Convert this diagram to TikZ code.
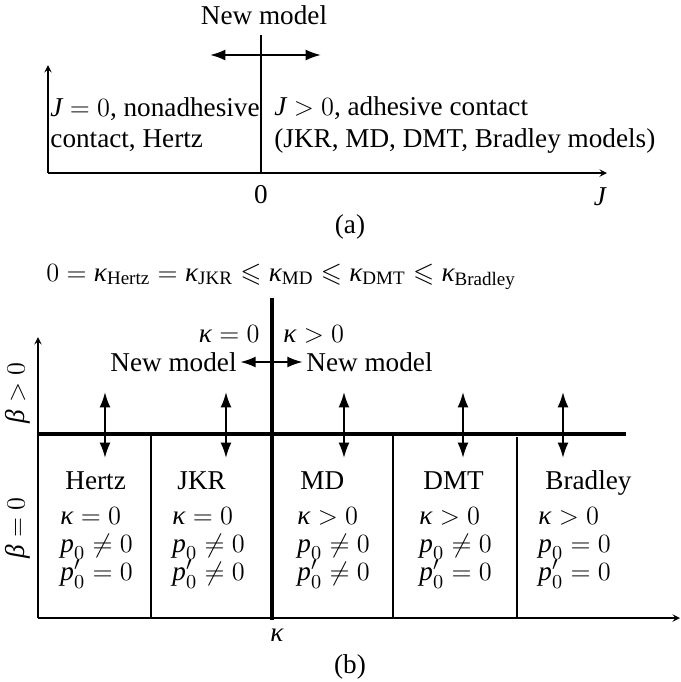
\documentclass[tikz,border=0pt]{standalone}
\usepackage{amsmath,amssymb}
\usepackage{fontspec}
\setmainfont{Liberation Serif}
\usetikzlibrary{arrows.meta}

% italic letters in the text face, to keep one serif throughout
\newcommand{\vJ}{\text{\itshape J}}
\newcommand{\vkap}{\text{\itshape κ}}
\newcommand{\vbeta}{\text{\itshape β}}
\newcommand{\vp}{\text{\itshape p}}

\begin{document}
\begin{tikzpicture}[x=0.456pt, y=-0.456pt,
    font=\fontsize{12.4}{14.2}\selectfont, inner sep=0pt,
    axis/.style={line width=0.5pt, ->, >=stealth},
    wall/.style={line width=1.4pt},
    divider/.style={line width=0.9pt},
    twoway/.style={line width=0.9pt, {Latex[length=7pt,width=5pt]}-{Latex[length=7pt,width=5pt]}},
    cond/.style={anchor=north west, align=left, font=\fontsize{12.4}{12.8}\selectfont}]

    \useasboundingbox (0,0) rectangle (681,682);

    % ---------------------------------------------------
    % (a) adhesion parameter J
    % ---------------------------------------------------
    \draw[axis] (48,173) -- (48,65);
    \draw[axis] (48,173) -- (607,173);
    \draw[line width=0.7pt] (261,35) -- (261,173);
    \draw[twoway] (210,55) -- (321,55);

    \node (newA) at (264,15) {New model};
    \node[anchor=west, align=left] (leftA) at (50,125) {$\vJ=0$, nonadhesive\\contact, Hertz};
    \node[anchor=west, align=left] (rightA) at (274,125) {$\vJ>0$, adhesive contact\\(JKR, MD, DMT, Bradley models)};
    \node (zeroA) at (261,195) {0};
    \node (jA) at (600,197) {$\vJ$};
    \node (capA) at (350,227) {(a)};

    % ---------------------------------------------------
    % (b) kappa / beta map
    % ---------------------------------------------------
    \node[anchor=base west] (order) at (46,281)
        {$0=\vkap_{\text{Hertz}}=\vkap_{\text{JKR}}\leqslant\vkap_{\text{MD}}\leqslant\vkap_{\text{DMT}}\leqslant\vkap_{\text{Bradley}}$};

    \draw[axis] (38,618) -- (38,337);
    \draw[axis] (38,618) -- (680,618);
    \draw[wall] (272,298) -- (272,620);
    \draw[wall] (38,434) -- (626,434);
    \foreach \x/\y in {151/434, 393/434, 517/437}
        \draw[divider] (\x,\y) -- (\x,617);

    \node[anchor=base east] (kzero) at (260,342) {$\vkap=0$};
    \node[anchor=base west] (kpos) at (283,342) {$\vkap>0$};
    \node[anchor=east] (newL) at (237,362) {New model};
    \node[anchor=west] (newR) at (306,362) {New model};
    \draw[twoway, shorten <=1.5pt, shorten >=1.5pt] (newL.east) -- (newR.west);

    \node[rotate=90] (betaPos) at (18,393) {$\vbeta>0$};
    \node[rotate=90] (betaZero) at (18,528) {$\vbeta=0$};
    \node (kappa) at (277,635) {$\vkap$};
    \node (capB) at (350,667) {(b)};

    % model columns
    \foreach \x in {105,226,344,463,563}
        \draw[twoway] (\x,392) -- (\x,458);

    \foreach \name/\xn/\xc/\ka/\pa/\pb [count=\i] in {
        Hertz/65/60/{\vkap=0}/{\vp_0\neq0}/{\vp_0'=0},
        JKR/177/172/{\vkap=0}/{\vp_0\neq0}/{\vp_0'\neq0},
        MD/300/297/{\vkap>0}/{\vp_0\neq0}/{\vp_0'\neq0},
        DMT/423/419/{\vkap>0}/{\vp_0\neq0}/{\vp_0'=0},
        Bradley/545/538/{\vkap>0}/{\vp_0=0}/{\vp_0'=0}} {
        \node[anchor=base west] (name\i) at (\xn,489) {\name};
        \node[cond] (cond\i) at (\xc,507) {$\ka$\\$\pa$\\$\pb$};
    }

\end{tikzpicture}
\end{document}
